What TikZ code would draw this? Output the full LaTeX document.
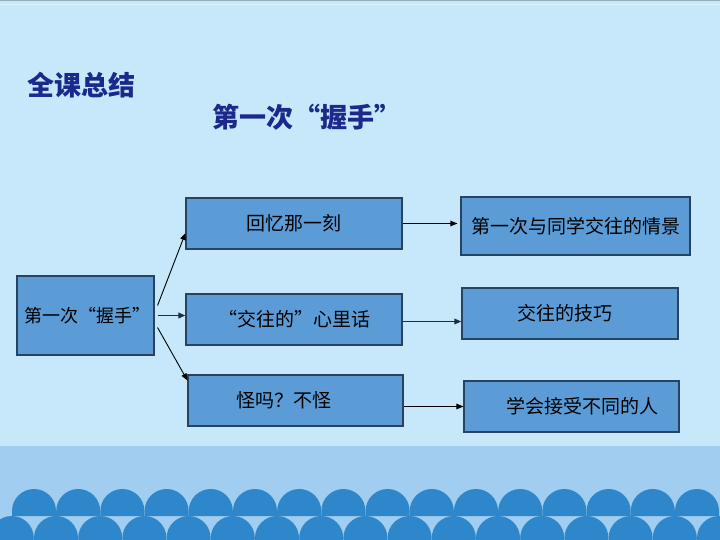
\documentclass[tikz,border=0pt]{standalone}
\usepackage{fontspec}
\setmainfont{Noto Sans CJK SC}
\usetikzlibrary{arrows.meta}
\usepackage{xcolor}
\definecolor{fondo}{RGB}{198,232,250}
\definecolor{banda}{RGB}{160,205,240}
\definecolor{ola}{RGB}{46,134,203}
\definecolor{caja}{RGB}{91,155,214}
\definecolor{borde}{RGB}{40,66,96}
\definecolor{titulo}{RGB}{27,40,140}

\begin{document}
\begin{tikzpicture}[x=1pt,y=-1pt,
	box/.style={draw=borde,line width=1.1pt,fill=caja,rectangle,inner sep=0pt,font=\fontsize{19}{19}\selectfont},
	flecha/.style={line width=0.9pt,-{Triangle[length=7pt,width=5.5pt]}}]
			\useasboundingbox (0,0) rectangle (720,540);
			%fondo
			\fill[fondo] (0,0) rectangle (720,540);
			\draw[color=black!25!fondo,line width=1.5pt] (0,0.75) -- (720,0.75);
			\draw[color=white!40!fondo,line width=1pt] (0,5) -- (720,5);
			\fill[banda] (0,446) rectangle (720,540);
			\begin{scope}
			\clip (0,0) rectangle (720,540);
			%olas
			\foreach \k in {0,...,15}
				\fill[ola] ({34+44.2*\k-22},516) -- ({34+44.2*\k-22},511) arc[start angle=180,end angle=360,radius=22] -- ({34+44.2*\k+22},516) -- cycle;
			\foreach \k in {-1,...,16}
				\fill[ola] ({56+44.2*\k},538) circle [radius=22];
			\end{scope}
			%titulos
			\node[anchor=west,text=titulo,font=\fontsize{27}{27}\selectfont\bfseries,inner sep=0pt] (resumen) at (27,85) {全课总结};
			\node[anchor=west,text=titulo,font=\fontsize{27}{27}\selectfont\bfseries,inner sep=0pt] (tema) at (212,117) {第一次“握手”};
			%cajas
			\node[box,minimum width=137pt,minimum height=79pt,font=\fontsize{18}{18}\selectfont] (woshou) at (85.5,315.5) {\hspace*{4pt}第一次“握手”};
			\node[box,minimum width=216pt,minimum height=51pt] (huiyi) at (294,223.5) {回忆那一刻};
			\node[box,minimum width=216pt,minimum height=51pt] (xinli) at (294,319.5) {“交往的”心里话};
			\node[box,minimum width=215pt,minimum height=51pt] (guai) at (295.5,400.5) {\hspace*{-24pt}怪吗？不怪};
			\node[box,minimum width=229pt,minimum height=58pt] (qingjing) at (575.5,226) {第一次与同学交往的情景};
			\node[box,minimum width=216pt,minimum height=51pt] (jiqiao) at (570,313.5) {\hspace*{-10pt}交往的技巧};
			\node[box,minimum width=215pt,minimum height=51pt] (jieshou) at (571.5,406.5) {\hspace*{22pt}学会接受不同的人};
			%flechas
			\draw[flecha] ([xshift=3pt,yshift=10pt]woshou.east) -- ([yshift=-9.5pt]huiyi.west);
			\draw[flecha,line width=1.8pt,color=black!70!caja] ([xshift=3pt]woshou.east) -- (woshou.east -| xinli.west);
			\draw[flecha] ([xshift=3pt,yshift=-12pt]woshou.east) -- ([yshift=20pt]guai.west);
			\draw[flecha] (huiyi.east) -- ([xshift=-3pt]huiyi.east -| qingjing.west);
			\draw[flecha,line width=1.5pt,color=black!70!caja] ([yshift=-2pt]xinli.east) -- ([yshift=-2pt]xinli.east -| jiqiao.west);
			\draw[flecha] (guai.east |- jieshou.west) -- (jieshou.west);
		\end{tikzpicture}
\end{document}
